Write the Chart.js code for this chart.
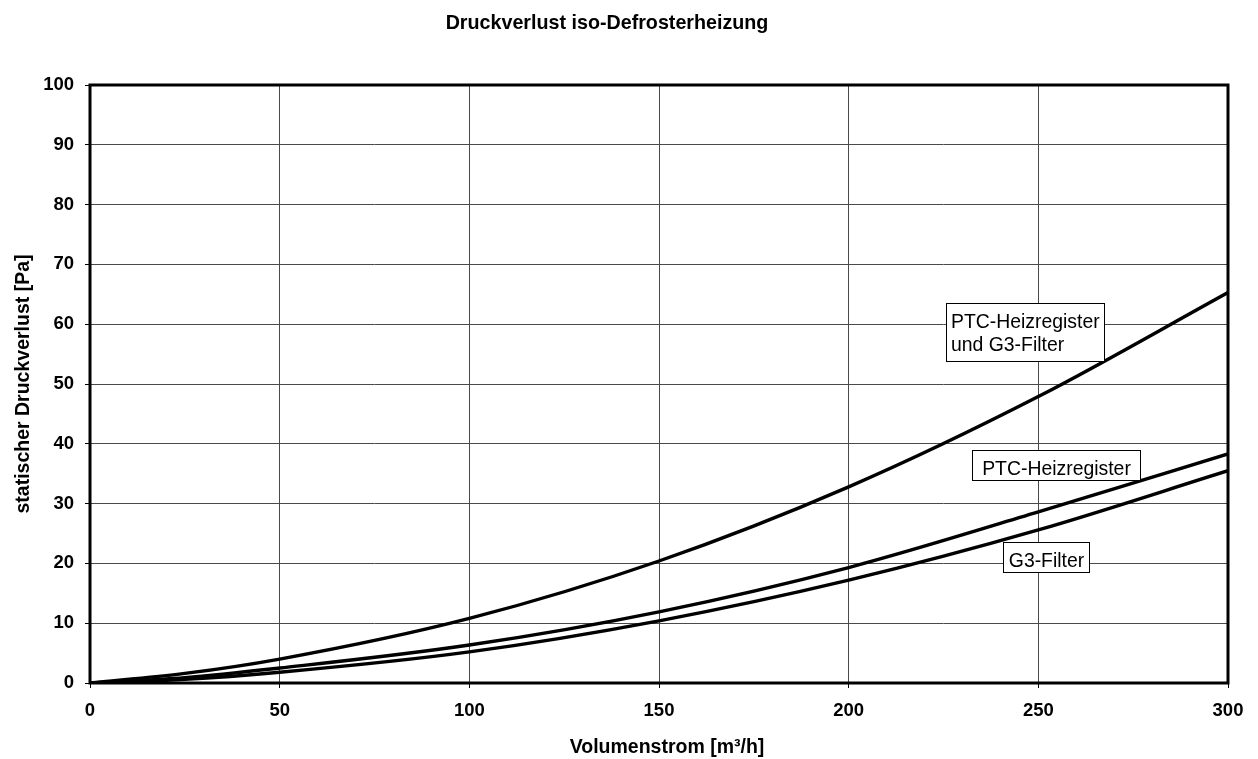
<!DOCTYPE html>
<html>
<head>
<meta charset="utf-8">
<script src="https://cdn.jsdelivr.net/npm/chart.js@4.4.0/dist/chart.umd.min.js"></script>
<style>
html,body{margin:0;padding:0;background:#fff;}
canvas{display:block;}
</style>
</head>
<body>
<canvas id="c" width="1258" height="759"></canvas>
<script>
// ---- data ----
const titleText = "Druckverlust iso-Defrosterheizung";
const xAxisTitle = "Volumenstrom [m³/h]";
const yAxisTitle = "statischer Druckverlust [Pa]";
const volumeFlow = [0, 25, 50, 100, 150, 200, 250, 300];
const ptcAndG3 = [0, 1.6, 4.0, 10.8, 20.4, 32.8, 47.9, 65.3];
const ptcOnly = [0, 0.9, 2.5, 6.35, 11.9, 19.3, 28.6, 38.3];
const g3Only = [0, 0.6, 1.8, 5.2, 10.4, 17.2, 25.6, 35.5];
const seriesNames = ["PTC-Heizregister und G3-Filter", "PTC-Heizregister", "G3-Filter"];
const xTicks = [0, 50, 100, 150, 200, 250, 300];
const yTicks = [0, 10, 20, 30, 40, 50, 60, 70, 80, 90, 100];

const FONT = "'Liberation Sans', Arial, sans-serif";
const toPts = ys => volumeFlow.map((x, i) => ({x: x, y: ys[i]}));

const labelBoxes = [
  {lines: ["PTC-Heizregister", "und G3-Filter"], x: 225.6, y: 63.6, w: 158, h: 58, align: 'left'},
  {lines: ["PTC-Heizregister"], x: 232.5, y: 38.9, w: 168, h: 30, align: 'center'},
  {lines: ["G3-Filter"], x: 240.7, y: 23.6, w: 86, h: 30, align: 'center'}
];

const decor = {
  id: 'decor',
  afterDraw(chart) {
    const ctx = chart.ctx, a = chart.chartArea;
    const xs = chart.scales.x, ys = chart.scales.y;
    ctx.save();
    // frame
    ctx.strokeStyle = '#000';
    ctx.lineWidth = 3;
    ctx.strokeRect(a.left, a.top, a.right - a.left, a.bottom - a.top);
    // title
    ctx.fillStyle = '#000';
    ctx.font = "bold 19.7px " + FONT;
    ctx.textAlign = 'center';
    ctx.textBaseline = 'alphabetic';
    ctx.fillText(titleText, 607, 28.5);
    // x axis title
    ctx.font = "bold 19.5px " + FONT;
    ctx.fillText(xAxisTitle, 667, 753);
    // y axis title
    ctx.save();
    ctx.translate(29, 384);
    ctx.rotate(-Math.PI / 2);
    ctx.fillText(yAxisTitle, 0, 0);
    ctx.restore();
    // label boxes
    ctx.font = "19.4px " + FONT;
    labelBoxes.forEach(b => {
      const px = Math.round(xs.getPixelForValue(b.x)) + 0.5;
      const py = Math.round(ys.getPixelForValue(b.y)) + 0.5;
      ctx.fillStyle = '#fff';
      ctx.fillRect(px, py, b.w, b.h);
      ctx.strokeStyle = '#000';
      ctx.lineWidth = 1;
      ctx.strokeRect(px, py, b.w, b.h);
      ctx.fillStyle = '#000';
      ctx.textAlign = b.align;
      b.lines.forEach((t, i) => {
        const tx = b.align === 'left' ? px + 4.5 : px + b.w / 2;
        ctx.fillText(t, tx, py + 24 + i * 23.3);
      });
    });
    ctx.restore();
  }
};

const lineStyle = {borderColor: '#000', borderWidth: 3.4, pointRadius: 0, fill: false, cubicInterpolationMode: 'monotone'};

new Chart(document.getElementById('c'), {
  type: 'line',
  data: {
    datasets: [
      Object.assign({label: seriesNames[0], data: toPts(ptcAndG3)}, lineStyle),
      Object.assign({label: seriesNames[1], data: toPts(ptcOnly)}, lineStyle),
      Object.assign({label: seriesNames[2], data: toPts(g3Only)}, lineStyle)
    ]
  },
  options: {
    responsive: false,
    animation: false,
    devicePixelRatio: 1,
    layout: {padding: {top: 85, right: 30, left: 0, bottom: 0}},
    plugins: {legend: {display: false}, tooltip: {enabled: false}, title: {display: false}},
    scales: {
      x: {
        type: 'linear', min: 0, max: 300,
        afterFit: s => { s.height = 76; },
        afterBuildTicks: s => { s.ticks = xTicks.map(v => ({value: v})); },
        grid: {color: '#4a4a4a', lineWidth: 1, tickLength: 5, tickColor: '#000'},
        border: {display: false},
        ticks: {color: '#000', font: {family: FONT, size: 18.5, weight: 'bold'}, padding: 12, maxRotation: 0}
      },
      y: {
        type: 'linear', min: 0, max: 100,
        afterFit: s => { s.width = 90; },
        afterBuildTicks: s => { s.ticks = yTicks.map(v => ({value: v})); },
        grid: {color: '#4a4a4a', lineWidth: 1, tickLength: 5, tickColor: '#000'},
        border: {display: false},
        ticks: {color: '#000', font: {family: FONT, size: 18.5, weight: 'bold'}, padding: 11}
      }
    }
  },
  plugins: [decor]
});
</script>
</body>
</html>
